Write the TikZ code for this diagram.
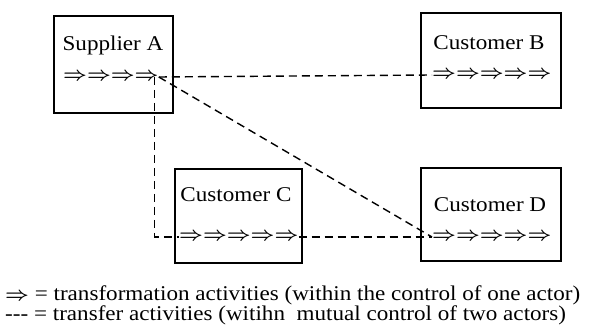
\documentclass[tikz,border=0pt]{standalone}
\usepackage{graphicx}
\usepackage{fontspec}
\setmainfont{Liberation Serif}[FakeStretch=1.1]
\begin{document}
\begin{tikzpicture}[x=1pt,y=-1pt,
    actorbox/.style={draw,line width=1.2pt,inner sep=0,minimum width=#1,minimum height=95},
    actorname/.style={font=\fontsize{21}{24}\selectfont,inner sep=0},
    flowrow/.style={font=\fontsize{17.28}{20}\selectfont,inner sep=0,anchor=west},
    transfer/.style={line width=1.4pt,dash pattern=on 8pt off 5pt},
    keyline/.style={font=\fontsize{21}{20}\selectfont,inner sep=0,anchor=north west,align=left}]

    \newcommand*{\bigimplies}{{\fontsize{17.28}{20}\selectfont\scalebox{1.2}[1.1]{\boldmath$\Rightarrow$}}}%
    \newcommand*{\flows}[1]{\foreach \k in {1,...,#1}{\bigimplies}}%

    \useasboundingbox (0,0) rectangle (595,328);

    % actors ↓
    \node [actorbox=119, minimum height=97] (supA)  at (113.5,64.5) {};
    \node [actorbox=140]                    (custB) at (491,60.5)   {};
    \node [actorbox=127, minimum height=94] (custC) at (238.5,216)  {};
    \node [actorbox=140, minimum height=93] (custD) at (491,214.5)  {};

    \node [actorname] (nameA) at (113,45)  {Supplier A};
    \node [actorname] (nameB) at (489,43)  {Customer B};
    \node [actorname] (nameC) at (236,195) {Customer C};
    \node [actorname] (nameD) at (490,205) {Customer D};

    \node [flowrow] (flowA) at (63,77)   {\flows{4}};
    \node [flowrow] (flowB) at (432,75)  {\flows{5}};
    \node [flowrow] (flowC) at (179,237) {\flows{5}};
    \node [flowrow] (flowD) at (432,237) {\flows{5}};

    % transfers ↓
    \draw [transfer] (flowA.east) -- (flowB.west);
    \draw [transfer] (flowA.east) -- (flowD.west);
    \draw [transfer] ([xshift=-4pt]flowA.east) |- (flowC.west);
    \draw [transfer] (flowC.east) -- (flowD.west);

    % legend ↓
    \node [keyline] (key) at (5,286) {\bigimplies{} = transformation activities (within the control of one actor)\\
      -{}-{}- = transfer activities (witihn~ mutual control of two actors)};

\end{tikzpicture}
\end{document}
